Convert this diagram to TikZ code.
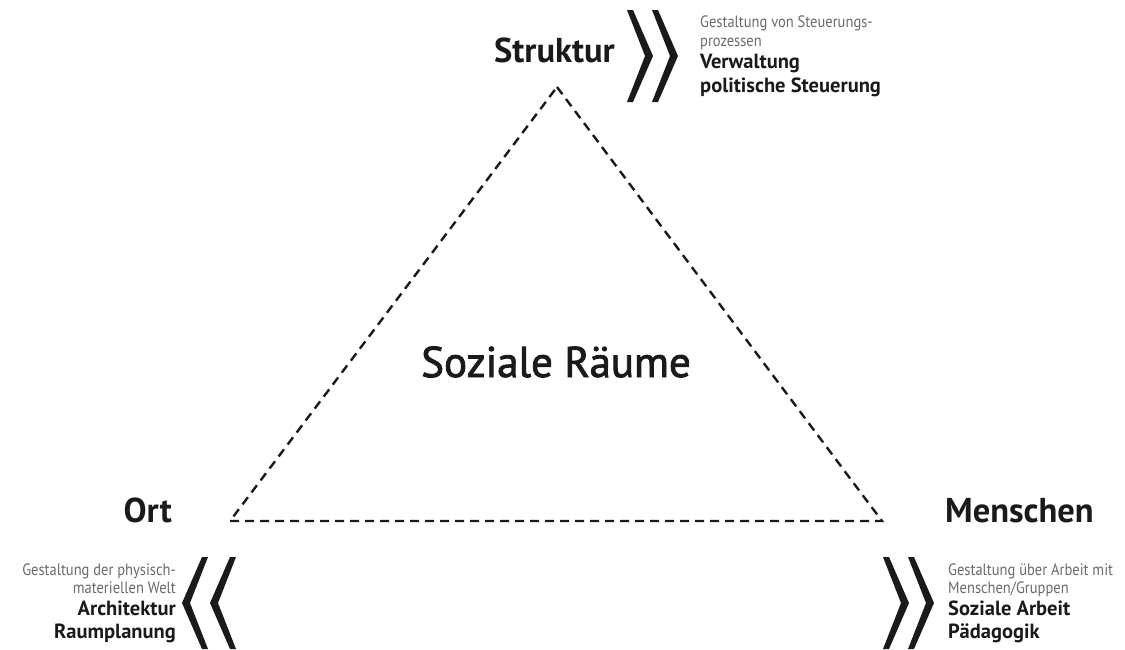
\documentclass[tikz,border=0pt]{standalone}
\usepackage{fontspec}
\setmainfont{PT Sans}
\newfontfamily\infofont[FakeStretch=0.88]{PT Sans}
\newfontfamily\centrefont[FakeBold=2]{PT Sans}
\usepackage{tikz}
\usetikzlibrary{positioning}
\definecolor{infogrey}{HTML}{6A6A6A}
\definecolor{ink}{HTML}{1A1A1A}
\tikzstyle{corner}=[inner sep=0pt,text=ink,font=\bfseries\fontsize{34.5}{34.5}\selectfont]
\tikzstyle{info}=[inner sep=0pt,text=infogrey,font=\infofont\fontsize{16.5}{16.5}\selectfont]
\tikzstyle{field}=[inner sep=0pt,text=ink,font=\bfseries\fontsize{20.5}{20.5}\selectfont]
\tikzset{chevron/.pic={\fill[ink] (0,0) -- (6,0) -- (26,46) -- (6,92) -- (0,92) -- (18,46) -- cycle;}}

\begin{document}
\begin{tikzpicture}[x=1pt,y=-1pt]
\clip (0,0) rectangle (1125,649);
\coordinate (top) at (557,87);
\coordinate (left) at (230,521);
\coordinate (right) at (882,521);
\draw[line width=2.4pt,dash pattern=on 9pt off 6pt,ink] (top) -- (right) -- (left) -- cycle;

\node [anchor=base,inner sep=0pt,text=ink,font=\centrefont\fontsize{43}{43}\selectfont] (raeume) at (556,377) {Soziale Räume};

% Struktur
\node [corner,anchor=base east] (struktur) at (615,62) {Struktur};
\pic (s1) at (627,10) {chevron};
\pic (s2) at (652,10) {chevron};
\node [info,anchor=base west] (st1) at (700,27) {Gestaltung von Steuerungs-};
\node [info,anchor=base west] (st2) at (700,46) {prozessen};
\node [field,anchor=base west] (st3) at (700,68) {Verwaltung};
\node [field,anchor=base west] (st4) at (700,92) {politische Steuerung};

% Ort
\node [corner,anchor=base east] (ort) at (172,522) {Ort};
\pic[xscale=-1] (o1) at (208,557) {chevron};
\pic[xscale=-1] (o2) at (236,557) {chevron};
\node [info,anchor=base east] (or1) at (176,575) {Gestaltung der physisch-};
\node [info,anchor=base east] (or2) at (176,593) {materiellen Welt};
\node [field,anchor=base east] (or3) at (176,615) {Architektur};
\node [field,anchor=base east] (or4) at (176,638) {Raumplanung};

% Menschen
\node [corner,anchor=base west] (menschen) at (945,522) {Menschen};
\pic (m1) at (883,557) {chevron};
\pic (m2) at (908,557) {chevron};
\node [info,anchor=base west] (me1) at (948,575) {Gestaltung über Arbeit mit};
\node [info,anchor=base west] (me2) at (948,593) {Menschen/Gruppen};
\node [field,anchor=base west] (me3) at (948,615) {Soziale Arbeit};
\node [field,anchor=base west] (me4) at (948,638) {Pädagogik};
\end{tikzpicture}
\end{document}
